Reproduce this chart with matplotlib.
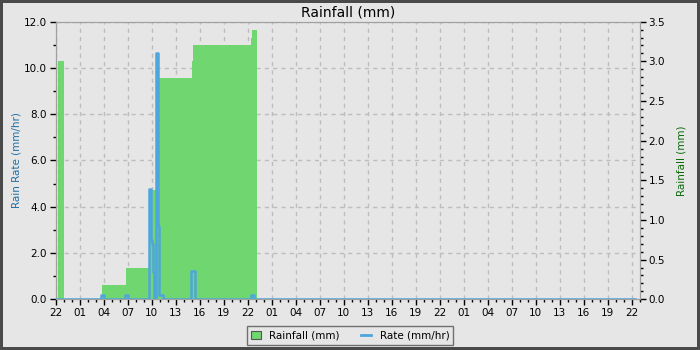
import numpy as np
import matplotlib.pyplot as plt
from matplotlib.patches import Patch
from matplotlib.lines import Line2D
from matplotlib.ticker import MultipleLocator, FuncFormatter

# time axis in hours since 22:00 on the first day
start_hour = 22

# rain rate (mm/hr), stepped
rate_t = [0, 5.66, 6.04, 8.66, 9.04, 11.63, 11.96, 12.06, 12.16, 12.25,
          12.5, 12.6, 12.75, 12.875, 12.96, 13.44, 16.875, 16.96, 17.41,
          24.375, 24.79, 72.4]
rate_v = [0, 0.19, 0, 0.19, 0, 4.78, 2.55, 2.4, 1.19, 0,
          10.6, 10.65, 3.16, 1.0, 0.19, 0, 0.14, 1.2, 0,
          0.2, 0, 0]

# daily rainfall total (mm), stepped
rain_t = [0.34, 1.08, 5.75, 8.75, 11.66, 12.9, 12.96, 17.0, 17.125,
          24.375, 24.5, 25.125]
rain_v = [3.0, 0, 0.18, 0.39, 1.38, 2.6, 2.79, 3.0, 3.2,
          3.3, 3.4, 0]

bg = '#e6e6e6'
green = '#70d670'
blue = '#4ea6dc'

fig = plt.figure(figsize=(7, 3.5), dpi=100)
fig.patch.set_facecolor(bg)
fig.patch.set_edgecolor('#4a4a4a')
fig.patch.set_linewidth(3)

ax = fig.add_axes([0.0793, 0.145, 0.835, 0.793])
ax.set_facecolor(bg)
ax_rain = ax.twinx()
ax_line = ax.twinx()
ax.set_zorder(0)
ax_rain.set_zorder(1)
ax_line.set_zorder(2)
ax_rain.patch.set_visible(False)
ax_line.patch.set_visible(False)

ax_rain.fill_between(rain_t, rain_v, step='post', color=green, lw=0)
ax_line.plot(rate_t, rate_v, drawstyle='steps-post', color=blue, lw=1.8)

xmax = 73.06
for a in (ax, ax_rain, ax_line):
    a.set_xlim(0, xmax)
ax.set_ylim(0, 12)
ax_line.set_ylim(0, 12)
ax_rain.set_ylim(0, 3.5)
ax_line.axis('off')

ax.xaxis.set_major_locator(MultipleLocator(3))
ax.xaxis.set_minor_locator(MultipleLocator(1))
ax.xaxis.set_major_formatter(FuncFormatter(lambda x, p: '%02d' % ((start_hour + int(round(x))) % 24)))
ax.yaxis.set_major_locator(MultipleLocator(2))
ax.yaxis.set_minor_locator(MultipleLocator(1))
ax.yaxis.set_major_formatter(FuncFormatter(lambda y, p: '%.1f' % y))
ax_rain.yaxis.set_major_locator(MultipleLocator(0.5))
ax_rain.yaxis.set_minor_locator(MultipleLocator(0.1))
ax_rain.yaxis.set_major_formatter(FuncFormatter(lambda y, p: '%.1f' % y))

for a in (ax, ax_rain):
    a.tick_params(which='major', length=4, width=1, labelsize=7.5, pad=2)
    a.tick_params(which='minor', length=2.5, width=1)
    for s in a.spines.values():
        s.set_color('#a0a0a0')

ax.grid(True, which='major', color='#bdbdbd', linestyle=(0, (3, 3)), lw=1)

ax.set_title('Rainfall (mm)', fontsize=10, pad=4)
ax.set_ylabel('Rain Rate (mm/hr)', fontsize=7.5, color='#1f6fa5', labelpad=2)
ax_rain.set_ylabel('Rainfall (mm)', fontsize=7.5, color='#0b6a0b', labelpad=8)

handles = [Patch(facecolor=green, edgecolor='#555555', lw=0.8),
           Line2D([], [], color=blue, lw=2)]
leg = fig.legend(handles, ['Rainfall (mm)', 'Rate (mm/hr)'], loc='lower center',
                 bbox_to_anchor=(0.5, 0.0), ncol=2, fontsize=7.5, frameon=True,
                 fancybox=False, facecolor=bg, edgecolor='#707070', framealpha=1,
                 handlelength=1.0, handleheight=0.7, columnspacing=2.0,
                 borderpad=0.4)

fig.savefig('out.png', dpi=100, facecolor=bg)
